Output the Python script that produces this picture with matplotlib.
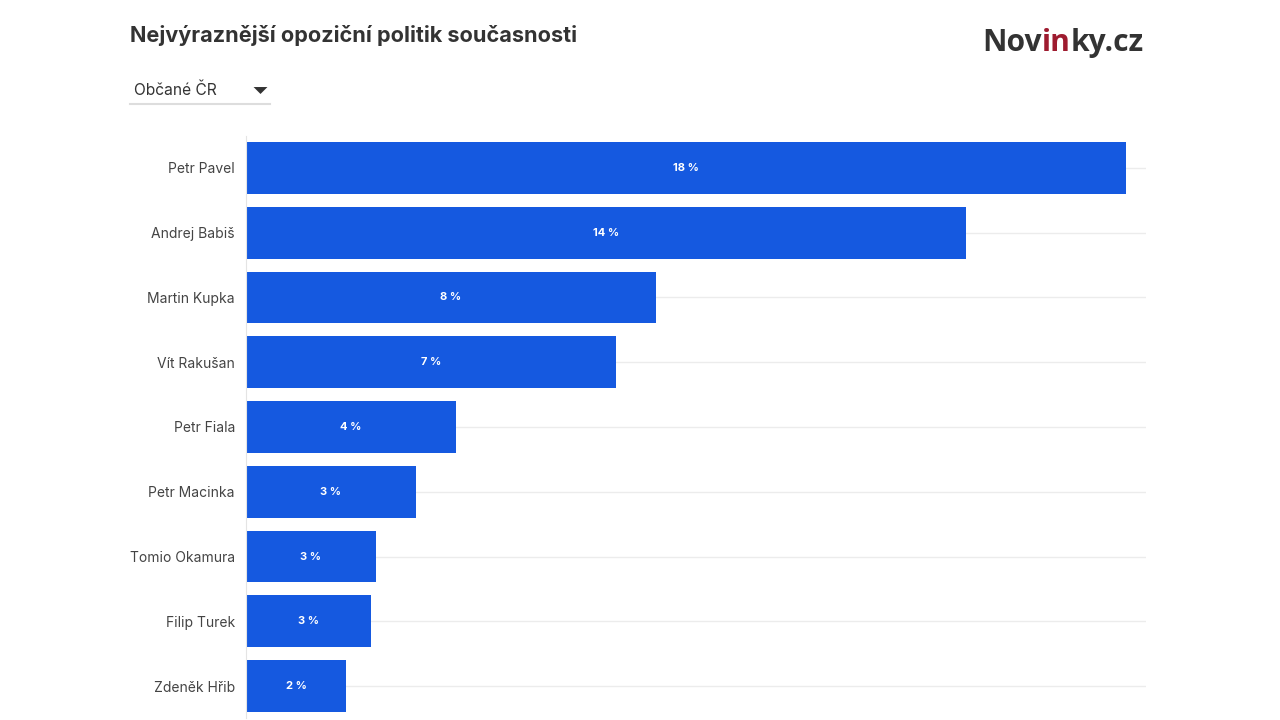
import matplotlib.pyplot as plt
from matplotlib.lines import Line2D

# data (bar lengths are finer than the rounded labels)
politicians = ["Petr Pavel", "Andrej Babiš", "Martin Kupka", "Vít Rakušan", "Petr Fiala",
               "Petr Macinka", "Tomio Okamura", "Filip Turek", "Zdeněk Hřib"]
shares = [17.6, 14.4, 8.2, 7.4, 4.2, 3.4, 2.6, 2.5, 2.0]
labels = ["18 %", "14 %", "8 %", "7 %", "4 %", "3 %", "3 %", "3 %", "2 %"]

title = "Nejvýraznější opoziční politik současnosti"
dropdown = "Občané ČR"

plt.rcParams['font.family'] = ['Inter', 'DejaVu Sans']

bar_color = "#1559e0"
text_color = "#333333"

fig = plt.figure(figsize=(12.8, 7.2), dpi=100)
ax = fig.add_axes([246 / 1280, 1.6 / 720, 900 / 1280, 582.8 / 720])

ypos = list(range(len(politicians)))
for y in ypos:
    ax.axhline(y, color="#ececec", lw=1, zorder=0)
ax.barh(ypos, shares, height=0.8, color=bar_color, zorder=2)
for y, v, lab in zip(ypos, shares, labels):
    ax.text(v / 2, y, lab, ha="center", va="center", color="white",
            fontsize=8, fontweight="bold", zorder=3)

ax.set_xlim(0, 18)
ax.set_ylim(len(politicians) - 0.5, -0.5)
ax.set_yticks(ypos)
ax.set_yticklabels(politicians, fontsize=10, color="#444444")
ax.tick_params(axis="y", length=0, pad=8)
ax.set_xticks([])
for side in ["top", "right", "bottom"]:
    ax.spines[side].set_visible(False)
ax.spines["left"].set_color("#e4e4e4")

# header
fig.text(130 / 1280, 1 - 36 / 720, title, fontsize=15.6, fontweight="bold",
         color=text_color, va="center", ha="left")
fig.text(134 / 1280, 1 - 90 / 720, dropdown, fontsize=11.2, color=text_color,
         va="center", ha="left")
# dropdown arrow icon (flat triangle)
arrow = [(-1, 0.5), (1, 0.5), (0, -0.5), (-1, 0.5)]
fig.add_artist(Line2D([260 / 1280], [1 - 90 / 720], marker=arrow, markersize=10,
                      markerfacecolor=text_color, markeredgewidth=0, lw=0))
fig.add_artist(Line2D([130 / 1280, 270 / 1280], [1 - 104 / 720, 1 - 104 / 720],
                      color="#dddddd", lw=1.5))

# logo
logo_font = dict(fontsize=21.6, fontweight="bold", family=["Open Sans", "DejaVu Sans"])
t1 = fig.text(982 / 1280, 1 - 51 / 720, "Nov", color="#333333", va="baseline",
              ha="left", **logo_font)
t2 = fig.text(0, 0, "in", color="#9e1b2f", va="baseline", ha="left", **logo_font)
t3 = fig.text(0, 0, "ky.cz", color="#333333", va="baseline", ha="left", **logo_font)
fig.canvas.draw()
r = fig.canvas.get_renderer()
inv = fig.transFigure.inverted()
b1 = t1.get_window_extent(r)
t2.set_position((inv.transform((b1.x1, 0))[0], 1 - 51 / 720))
b2 = t2.get_window_extent(r)
t3.set_position((inv.transform((b2.x1, 0))[0], 1 - 51 / 720))

fig.savefig("out.png", dpi=100, facecolor="white")
